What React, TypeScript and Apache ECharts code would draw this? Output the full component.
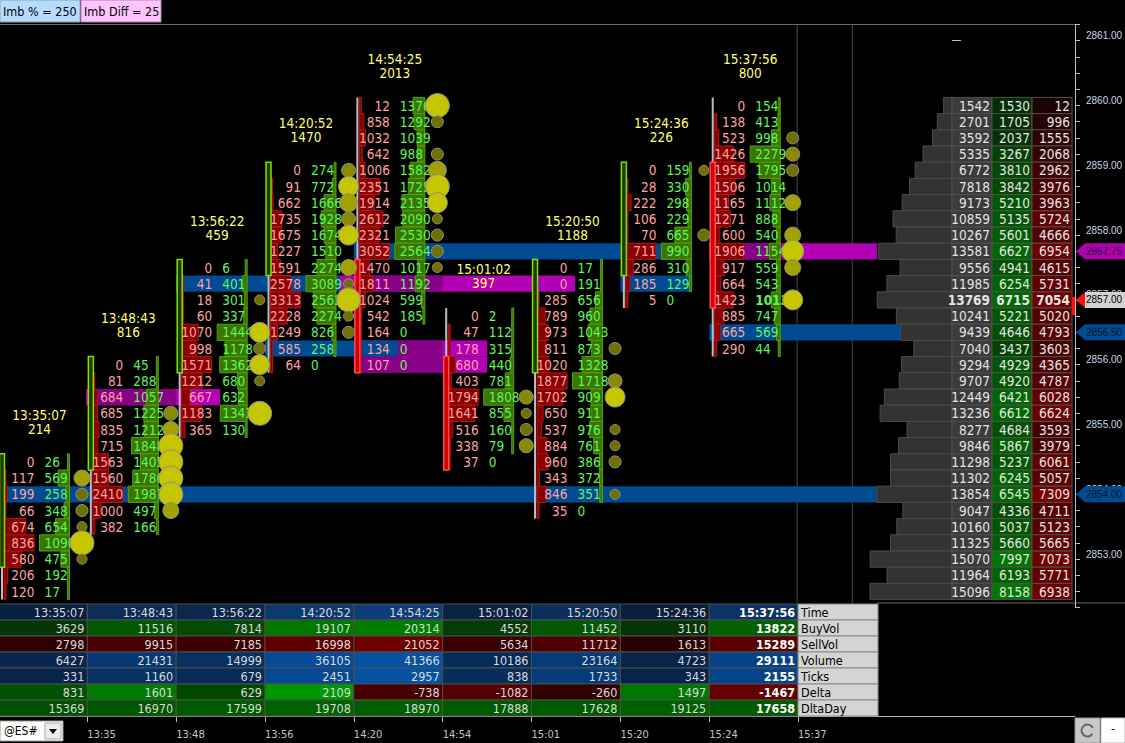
import { useEffect, useRef } from "react";
import * as echarts from "echarts";

const FONT = "'DejaVu Sans Condensed', 'Liberation Sans', 'DejaVu Sans', sans-serif";
const NARROW = "'Liberation Sans', 'DejaVu Sans Condensed', sans-serif";
const TICK = 0.25;

// bars (one footprint column each)
const barTimes = ["13:35:07", "13:48:43", "13:56:22", "14:20:52", "14:54:25", "15:01:02", "15:20:50", "15:24:36", "15:37:56"];
const barRanges = [214, 816, 459, 1470, 2013, 397, 1188, 226, 800];
const axisTimes = ["13:35", "13:48", "13:56", "14:20", "14:54", "15:01", "15:20", "15:24", "15:37"];

const opens = [2853.0, 2854.5, 2856.0, 2857.5, 2857.5, 2856.0, 2856.0, 2857.5, 2859.0];
const highs = [2854.5, 2856.0, 2857.5, 2859.0, 2860.0, 2856.75, 2857.5, 2859.0, 2860.0];
const lows = [2852.5, 2853.5, 2855.0, 2856.0, 2856.0, 2854.5, 2853.75, 2857.0, 2856.25];
const closes = [2854.5, 2856.0, 2857.5, 2859.0, 2856.0, 2854.5, 2857.5, 2859.0, 2857.0];

// bid x ask per price, from the high of the bar down
const sellVols = [
  [0, 117, 199, 66, 674, 836, 580, 206, 120],
  [0, 81, 684, 685, 835, 715, 1563, 1560, 2410, 1000, 382],
  [0, 41, 18, 60, 1070, 998, 1571, 1212, 667, 1183, 365],
  [0, 91, 662, 1735, 1675, 1227, 1591, 2578, 3313, 2228, 1249, 585, 64],
  [12, 858, 1032, 642, 1006, 2351, 1914, 2612, 2321, 3052, 1470, 1811, 1024, 542, 164, 134, 107],
  [0, 47, 178, 680, 403, 1794, 1641, 516, 338, 37],
  [0, 0, 285, 789, 973, 811, 1020, 1877, 1702, 650, 537, 884, 960, 343, 846, 35],
  [0, 28, 222, 106, 70, 711, 286, 185, 5],
  [0, 138, 523, 1426, 1956, 1506, 1165, 1271, 600, 1906, 917, 664, 1423, 885, 665, 290],
];
const buyVols = [
  [26, 569, 258, 348, 654, 1090, 475, 192, 17],
  [45, 288, 1057, 1225, 1212, 1848, 1405, 1786, 1987, 497, 166],
  [6, 401, 301, 337, 1444, 1178, 1362, 680, 632, 1343, 130],
  [274, 772, 1666, 1928, 1674, 1510, 2274, 3089, 2562, 2274, 826, 258, 0],
  [1376, 1292, 1039, 988, 1582, 1725, 2135, 2090, 2530, 2564, 1017, 1192, 599, 185, 0, 0, 0],
  [2, 112, 315, 440, 781, 1808, 855, 160, 79, 0],
  [17, 191, 656, 960, 1043, 873, 1328, 1718, 909, 911, 976, 761, 386, 372, 351, 0],
  [159, 330, 298, 229, 665, 990, 310, 129, 0],
  [154, 413, 998, 2279, 1795, 1014, 1112, 888, 540, 1154, 559, 543, 1013, 747, 569, 44],
];

// imbalance dots: [price, strength]
const imbalances = [
  [[2854.25, 8], [2854.0, 6], [2853.75, 6], [2853.5, 5], [2853.25, 12], [2853.0, 5]],
  [[2855.25, 7], [2855.0, 8], [2854.75, 12], [2854.5, 12], [2854.25, 12], [2854.0, 12], [2853.75, 8]],
  [[2857.0, 5], [2856.5, 10], [2856.25, 6], [2856.0, 10], [2855.75, 5], [2855.25, 12]],
  [[2859.0, 7], [2858.75, 10], [2858.5, 9], [2858.25, 7], [2858.0, 10], [2857.5, 8], [2857.25, 5], [2857.0, 12], [2856.75, 5], [2856.5, 6]],
  [[2860.0, 12], [2859.75, 6], [2859.25, 6], [2859.0, 9], [2858.75, 12], [2858.5, 10], [2858.25, 5], [2858.0, 6], [2857.75, 6], [2857.5, 5]],
  [[2855.5, 7], [2855.25, 5], [2855.0, 6], [2854.75, 7]],
  [[2856.25, 6], [2855.75, 7], [2855.5, 10], [2855.0, 5], [2854.75, 5], [2854.5, 6], [2854.0, 5]],
  [[2859.0, 5], [2858.0, 6]],
  [[2859.5, 6], [2859.25, 7], [2859.0, 6], [2858.5, 8], [2858.0, 8], [2857.75, 11], [2857.5, 8], [2857.0, 10]],
];

// extended levels: [price, from bar, to bar, kind, home bar]
const bands: [number, number, number, string, number][] = [
  [2854.0, 0.107, 9.888, "blue", 0],
  [2855.5, 0.985, 2.493, "mag", 1],
  [2857.25, 1.998, 3.844, "blue", 2],
  [2857.25, 3.844, 6.489, "mag", 4],
  [2856.25, 4.0, 5.499, "mag", 4],
  [2856.0, 4.0, 5.499, "mag", 4],
  [2856.25, 3.0, 4.497, "blue", 3],
  [2857.75, 4.0, 7.47, "blue", 4],
  [2857.25, 7.0, 7.81, "blue", 7],
  [2857.75, 8.0, 9.888, "mag", 8],
  [2856.5, 8.0, 10.16, "blue", 8],
];

// session boundary lines (in bar units)
const dividers = [8.99, 9.61];

// session volume profile
const profilePrices = [2860.0, 2859.75, 2859.5, 2859.25, 2859.0, 2858.75, 2858.5, 2858.25, 2858.0, 2857.75, 2857.5, 2857.25, 2857.0, 2856.75, 2856.5, 2856.25, 2856.0, 2855.75, 2855.5, 2855.25, 2855.0, 2854.75, 2854.5, 2854.25, 2854.0, 2853.75, 2853.5, 2853.25, 2853.0, 2852.75, 2852.5];
const profileTotal = [1542, 2701, 3592, 5335, 6772, 7818, 9173, 10859, 10267, 13581, 9556, 11985, 13769, 10241, 9439, 7040, 9294, 9707, 12449, 13236, 8277, 9846, 11298, 11302, 13854, 9047, 10160, 11325, 15070, 11964, 15096];
const profileBuy = [1530, 1705, 2037, 3267, 3810, 3842, 5210, 5135, 5601, 6627, 4941, 6254, 6715, 5221, 4646, 3437, 4929, 4920, 6421, 6612, 4684, 5867, 5237, 6245, 6545, 4336, 5037, 5660, 7997, 6193, 8158];
const profileSell = [12, 996, 1555, 2068, 2962, 3976, 3963, 5724, 4666, 6954, 4615, 5731, 7054, 5020, 4793, 3603, 4365, 4787, 6028, 6624, 3593, 3979, 6061, 5057, 7309, 4711, 5123, 5665, 7073, 5771, 6938];

const priceLabels = [2853, 2854, 2855, 2856, 2857, 2858, 2859, 2860, 2861];

// bar statistics table
const rowNames = ["Time", "BuyVol", "SellVol", "Volume", "Ticks", "Delta", "DltaDay"];
const tableBuy = [3629, 11516, 7814, 19107, 20314, 4552, 11452, 3110, 13822];
const tableSell = [2798, 9915, 7185, 16998, 21052, 5634, 11712, 1613, 15289];
const tableVolume = [6427, 21431, 14999, 36105, 41366, 10186, 23164, 4723, 29111];
const tableTicks = [331, 1160, 679, 2451, 2957, 838, 1733, 343, 2155];
const tableDelta = [831, 1601, 629, 2109, -738, -1082, -260, 1497, -1467];
const tableDeltaDay = [15369, 16970, 17599, 19708, 18970, 17888, 17628, 19125, 17658];

// layout
const COL_PX = 88.84;
const GRID_LEFT = -1.5;
const PLOT_RIGHT = 1075;
const GRID_W = PLOT_RIGHT - GRID_LEFT;
const X_MAX = GRID_W / COL_PX;
const Y_MIN = 2852.25;
const Y_MAX = 2861.25;
const PX_PER_POINT = 64.8;
const GRID_TOP = 24.5;

const shade = (t: number, a: number[], b: number[]) => {
  const k = Math.max(0, Math.min(1, t));
  return "rgb(" + a.map((v, i) => Math.round(v + (b[i] - v) * k)).join(",") + ")";
};

const dotColor = (s: number) => (s >= 10 ? "#c6c600" : s >= 8 ? "#a2a200" : s >= 7 ? "#8a8a00" : "#707000");

const buildOption = () => {
  const lastCol = barTimes.length - 1;
  const lastPrice = closes[lastCol];

  const fpRows: any[] = [];
  sellVols.forEach((col, c) => {
    const ms = Math.max(...col);
    const mb = Math.max(...buyVols[c]);
    col.forEach((s, i) => {
      fpRows.push({ c, price: highs[c] - i * TICK, sell: s, buy: buyVols[c][i], ms, mb });
    });
  });

  const dots = imbalances.flatMap((list, c) => list.map(([p, s]) => [c, p, s]));

  const tags = bands
    .filter((b) => b[2] > 9.8)
    .map((b) => ({ price: b[0], kind: b[3] }))
    .concat([{ price: lastPrice, kind: "last" }]);

  // profile axis: zero 123px left of the price axis, biggest row 82px long
  const maxTotal = Math.max(...profileTotal);
  const pxPerVol = 82 / maxTotal;
  const volMin = -123 / pxPerVol;
  const volMax = volMin + GRID_W / pxPerVol;
  const maxPB = Math.max(...profileBuy);
  const maxPS = Math.max(...profileSell);

  const maxVol = Math.max(...tableVolume);
  const maxBuy = Math.max(...tableBuy);
  const maxSell = Math.max(...tableSell);
  const maxTicks = Math.max(...tableTicks);
  const maxAbsDelta = Math.max(...tableDelta.map(Math.abs));
  const maxDD = Math.max(...tableDeltaDay);
  const tableRows = [null, tableBuy, tableSell, tableVolume, tableTicks, tableDelta, tableDeltaDay];

  const cells: any[] = [];
  rowNames.forEach((name, r) => {
    barTimes.forEach((t, c) => {
      const v = r === 0 ? 0 : (tableRows[r] as number[])[c];
      let fill = "#000";
      if (r === 0) fill = shade(tableVolume[c] / maxVol, [8, 26, 52], [14, 62, 122]);
      if (r === 1) fill = shade(v / maxBuy, [6, 40, 6], [0, 125, 0]);
      if (r === 2) fill = shade(v / maxSell, [36, 0, 0], [112, 0, 0]);
      if (r === 3) fill = shade(v / maxVol, [8, 30, 62], [5, 82, 165]);
      if (r === 4) fill = shade(v / maxTicks, [8, 30, 62], [5, 82, 165]);
      if (r === 5) fill = v >= 0 ? shade(v / maxAbsDelta, [0, 38, 0], [0, 152, 0]) : shade(-v / maxAbsDelta, [38, 0, 0], [128, 0, 0]);
      if (r === 6) fill = shade(v / maxDD, [0, 20, 0], [0, 98, 0]);
      cells.push({ c, r, text: r === 0 ? t : String(v), fill, label: false, bold: c === lastCol });
    });
    cells.push({ c: barTimes.length, r, text: name, fill: "#d4d4d4", label: true, bold: false });
  });

  const rowBounds = (api: any, x: number, price: number) => {
    const top = api.coord([x, price + TICK / 2])[1];
    const bot = api.coord([x, price - TICK / 2])[1];
    return { top, bot, h: bot - top, mid: (top + bot) / 2 };
  };

  const txt = (text: string, x: number, y: number, fill: string, align: string, size = 13.5, weight = "normal", family = FONT) => ({
    type: "text",
    style: { text, x, y, fill, align, verticalAlign: "middle", fontSize: size, fontFamily: family, fontWeight: weight },
  });

  return {
    animation: false,
    backgroundColor: "#000",
    textStyle: { fontFamily: FONT },
    grid: [
      { left: GRID_LEFT, top: GRID_TOP, width: GRID_W, height: (Y_MAX - Y_MIN) * PX_PER_POINT, outerBoundsMode: "none" },
      { left: GRID_LEFT, top: 604, width: GRID_W, height: 112, outerBoundsMode: "none" },
    ],
    xAxis: [
      {
        type: "value", gridIndex: 0, min: 0, max: X_MAX, position: "top",
        axisLine: { show: true, lineStyle: { color: "#6a6a6a" } },
        axisTick: { show: false }, axisLabel: { show: false }, splitLine: { show: false },
      },
      { type: "value", gridIndex: 0, min: volMin, max: volMax, inverse: true, show: false, position: "bottom" },
      {
        type: "value", gridIndex: 1, min: 0, max: X_MAX, position: "bottom",
        axisLine: { show: true, lineStyle: { color: "#b8b8b8" } },
        axisTick: { show: true, length: 6, lineStyle: { color: "#b8b8b8" }, customValues: axisTimes.map((_, i) => i + 1) },
        axisLabel: {
          show: true, customValues: axisTimes.map((_, i) => i + 1),
          formatter: (v: number) => axisTimes[Math.round(v) - 1] || "",
          align: "left", color: "#c4c4c4", fontSize: 11, margin: 13, fontFamily: FONT,
        },
        splitLine: { show: false },
      },
    ],
    yAxis: [
      {
        // quarter-point ticks, moved onto the right edge
        type: "value", gridIndex: 0, position: "left", offset: -GRID_W, min: Y_MIN, max: Y_MAX, interval: TICK,
        axisLine: { show: true, lineStyle: { color: "#c0c0c0" } },
        axisTick: { show: true, inside: true, length: 5, lineStyle: { color: "#c0c0c0" } },
        axisLabel: { show: false }, splitLine: { show: false },
      },
      {
        type: "value", gridIndex: 0, position: "right", min: Y_MIN, max: Y_MAX,
        axisLine: { show: false },
        axisTick: { show: true, length: 9, lineStyle: { color: "#c0c0c0" }, customValues: priceLabels },
        axisLabel: {
          show: true, customValues: priceLabels, formatter: (v: number) => v.toFixed(2),
          color: "#c8d6e4", fontSize: 10, margin: 11, verticalAlign: "bottom", fontFamily: NARROW,
        },
        splitLine: { show: false },
      },
      { type: "category", gridIndex: 1, data: rowNames, inverse: true, show: false },
    ],
    series: [
      {
        // session dividers
        type: "custom", xAxisIndex: 0, yAxisIndex: 0, z: 0, silent: true,
        data: dividers.map((d) => [d, Y_MIN, Y_MAX]),
        encode: { x: 0, y: [1, 2] },
        renderItem: (params: any, api: any) => {
          const [x, y1] = api.coord([api.value(0), Y_MAX]);
          const y2 = api.coord([api.value(0), Y_MIN])[1];
          return { type: "line", shape: { x1: x, y1, x2: x, y2 }, style: { stroke: "#4a4a4a", lineWidth: 1 } };
        },
      },
      {
        // extended levels
        type: "custom", xAxisIndex: 0, yAxisIndex: 0, z: 1, silent: true,
        data: bands.map((b) => [b[1], b[0], b[2]]),
        encode: { x: [0, 2], y: 1 },
        renderItem: (params: any, api: any) => {
          const [p, from, to, kind, home] = bands[params.dataIndex];
          const rb = rowBounds(api, from, p);
          const x1 = api.coord([from, p])[0];
          const x2 = api.coord([to, p])[0];
          const children: any[] = [
            { type: "rect", shape: { x: x1, y: rb.top, width: x2 - x1, height: rb.h }, style: { fill: kind === "blue" ? "#004b91" : "#b400b4" } },
          ];
          if (kind === "mag") {
            const d1 = api.coord([Math.max(from, home), p])[0];
            const d2 = api.coord([Math.min(to, home + 1), p])[0];
            if (d2 > d1) children.push({ type: "rect", shape: { x: d1, y: rb.top, width: d2 - d1, height: rb.h }, style: { fill: "#880088" } });
          }
          return { type: "group", children };
        },
      },
      {
        // footprint rows
        type: "custom", xAxisIndex: 0, yAxisIndex: 0, z: 2, silent: true,
        data: fpRows.map((r) => [r.c, r.price]),
        encode: { x: 0, y: 1 },
        renderItem: (params: any, api: any) => {
          const r = fpRows[params.dataIndex];
          const x0 = api.coord([r.c, r.price])[0];
          const rb = rowBounds(api, r.c, r.price);
          const children: any[] = [];
          if (r.sell > 0) {
            const w = Math.max(2, 30 * Math.pow(r.sell / r.ms, 1.5));
            children.push({ type: "rect", shape: { x: x0 + 5.5, y: rb.top, width: w, height: rb.h }, style: { fill: "#8a0000", stroke: "#b01616", lineWidth: 1 } });
          }
          if (r.buy > 0) {
            const w = Math.max(2, 30 * Math.pow(r.buy / r.mb, 1.5));
            children.push({ type: "rect", shape: { x: x0 + 71 - w, y: rb.top, width: w, height: rb.h }, style: { fill: "#3a7600", stroke: "#54a010", lineWidth: 1 } });
          }
          const boldBuy = r.c === lastCol && r.price === lastPrice;
          children.push(txt(String(r.sell), x0 + 36, rb.mid, "#ffa2a2", "right"));
          children.push(txt(String(r.buy), x0 + 46, rb.mid, "#5ef55e", "left", 13.5, boldBuy ? "bold" : "normal"));
          return { type: "group", children };
        },
      },
      {
        // candles and bar headers
        type: "custom", xAxisIndex: 0, yAxisIndex: 0, z: 3, silent: true,
        data: opens.map((o, i) => [i, o, highs[i], lows[i], closes[i]]),
        encode: { x: 0, y: [1, 2, 3, 4] },
        renderItem: (params: any, api: any) => {
          const i = params.dataIndex;
          const o = api.value(1), h = api.value(2), l = api.value(3), c = api.value(4);
          const x0 = api.coord([i, h])[0];
          const yHigh = api.coord([i, h + TICK / 2])[1];
          const yLow = api.coord([i, l - TICK / 2])[1];
          const up = c >= o;
          const yb1 = api.coord([i, Math.max(o, c) + TICK / 2])[1];
          const yb2 = api.coord([i, Math.min(o, c) - TICK / 2])[1];
          const yTopRow = api.coord([i, h])[1];
          return {
            type: "group",
            children: [
              { type: "line", shape: { x1: x0 + 3.5, y1: yHigh, x2: x0 + 3.5, y2: yLow }, style: { stroke: "#bdbdbd", lineWidth: 2 } },
              {
                type: "rect", shape: { x: x0 + 1, y: yb1, width: 5, height: yb2 - yb1 },
                style: up ? { fill: "#1e3c00", stroke: "#80e000", lineWidth: 1.5 } : { fill: "#d40000", stroke: "#ff4a4a", lineWidth: 1.5 },
              },
              txt(barTimes[i], x0 + 41, yTopRow - 47, "#ffff70", "center"),
              txt(String(barRanges[i]), x0 + 41, yTopRow - 33, "#ffff70", "center"),
            ],
          };
        },
      },
      {
        // imbalance dots
        type: "scatter", xAxisIndex: 0, yAxisIndex: 0, z: 5, silent: true,
        data: dots.map(([c, p, s]) => ({ value: [c + 0.94, p], symbolSize: s * 2, itemStyle: { color: dotColor(s) } })),
        itemStyle: { opacity: 1, borderColor: "#8e8e8e", borderWidth: 1 },
      },
      {
        // volume profile
        type: "custom", xAxisIndex: 1, yAxisIndex: 0, z: 6, silent: true,
        data: profileTotal.map((t, i) => [t, profilePrices[i]]),
        encode: { x: 0, y: 1 },
        renderItem: (params: any, api: any) => {
          const i = params.dataIndex;
          const p = profilePrices[i];
          const xl = api.coord([profileTotal[i], p])[0];
          const xz = api.coord([0, p])[0];
          const rb = rowBounds(api, 0, p);
          const bold = p === lastPrice ? "bold" : "normal";
          const cellStroke = "#505050";
          return {
            type: "group",
            children: [
              { type: "rect", shape: { x: xl, y: rb.top, width: xz - xl, height: rb.h }, style: { fill: "#333333", stroke: "#4c4c4c", lineWidth: 1 } },
              { type: "rect", shape: { x: xz, y: rb.top, width: 40, height: rb.h }, style: { fill: "#3b3b3b", stroke: cellStroke, lineWidth: 1 } },
              { type: "rect", shape: { x: xz + 40, y: rb.top, width: 40, height: rb.h }, style: { fill: shade(profileBuy[i] / maxPB, [6, 28, 6], [0, 122, 0]), stroke: cellStroke, lineWidth: 1 } },
              { type: "rect", shape: { x: xz + 80, y: rb.top, width: 40, height: rb.h }, style: { fill: shade(profileSell[i] / maxPS, [26, 4, 4], [118, 0, 0]), stroke: cellStroke, lineWidth: 1 } },
              txt(String(profileTotal[i]), xz + 38, rb.mid, "#e4e4e4", "right", 13.5, bold),
              txt(String(profileBuy[i]), xz + 78, rb.mid, "#e4e4e4", "right", 13.5, bold),
              txt(String(profileSell[i]), xz + 118, rb.mid, "#e4e4e4", "right", 13.5, bold),
            ],
          };
        },
      },
      {
        // price tags on the axis
        type: "custom", xAxisIndex: 0, yAxisIndex: 0, z: 8, silent: true, clip: false,
        data: tags.map((t) => [X_MAX, t.price]),
        encode: { x: 0, y: 1 },
        renderItem: (params: any, api: any) => {
          const t = tags[params.dataIndex];
          const [xr, y] = api.coord([X_MAX, t.price]);
          const bg = t.kind === "blue" ? "#004b91" : t.kind === "mag" ? "#b000b0" : "#d2d2d2";
          const arrow = t.kind === "last" ? "#ff1010" : bg;
          const textFill = t.kind === "blue" ? "#001326" : t.kind === "mag" ? "#2a002a" : "#000";
          const children: any[] = [
            { type: "polygon", shape: { points: [[xr + 1, y], [xr + 10, y - 8], [xr + 10, y + 8]] }, style: { fill: arrow } },
            { type: "rect", shape: { x: xr + 10, y: y - 8, width: 40, height: 16 }, style: { fill: bg } },
            txt(t.price.toFixed(2), xr + 11, y, textFill, "left", 10, "normal", NARROW),
          ];
          if (t.kind === "last") children.push({ type: "rect", shape: { x: xr - 3, y: y - 3, width: 3, height: 18 }, style: { fill: "#ff1010" } });
          return { type: "group", children };
        },
      },
      {
        // statistics table
        type: "custom", xAxisIndex: 2, yAxisIndex: 2, z: 10, silent: true, clip: false,
        data: cells.map((c) => [c.c, c.r]),
        encode: { x: 0, y: 1 },
        renderItem: (params: any, api: any) => {
          const cell = cells[params.dataIndex];
          const [xl, yc] = api.coord([cell.c, cell.r]);
          const bh = api.size([0, 1])[1];
          const xr = api.coord([cell.c + (cell.label ? 0.9 : 1), cell.r])[0];
          return {
            type: "group",
            children: [
              { type: "rect", shape: { x: xl, y: yc - bh / 2, width: xr - xl, height: bh }, style: { fill: cell.fill, stroke: cell.label ? "#8a8a8a" : "#4e4e4e", lineWidth: 1 } },
              cell.label
                ? txt(cell.text, xl + 3, yc, "#000", "left", 12.5)
                : txt(cell.text, xr - 3, yc, cell.bold ? "#ffffff" : "#dadada", "right", 12.5, cell.bold ? "bold" : "normal"),
            ],
          };
        },
      },
    ],
    graphic: [
      { type: "rect", shape: { x: 0, y: 0, width: 80, height: 22 }, style: { fill: "#b5dbff", stroke: "#8aa" } },
      { type: "text", style: { text: "Imb % = 250", x: 3, y: 11, fill: "#000", fontSize: 12.5, fontFamily: FONT, verticalAlign: "middle" } },
      { type: "rect", shape: { x: 81, y: 0, width: 80, height: 22 }, style: { fill: "#ffc4ff", stroke: "#a8a" } },
      { type: "text", style: { text: "Imb Diff = 25", x: 84, y: 11, fill: "#000", fontSize: 12.5, fontFamily: FONT, verticalAlign: "middle" } },
      { type: "line", shape: { x1: 877, y1: 603, x2: 1125, y2: 603 }, style: { stroke: "#666", lineWidth: 1 } },
      { type: "rect", shape: { x: 0, y: 721, width: 63, height: 20 }, style: { fill: "#fff", stroke: "#9a9a9a" } },
      { type: "text", style: { text: "@ES#", x: 4, y: 731, fill: "#000", fontSize: 12, fontFamily: FONT, verticalAlign: "middle" } },
      { type: "rect", shape: { x: 45, y: 723, width: 16, height: 16 }, style: { fill: "#ececec", stroke: "#aaa" } },
      { type: "polygon", shape: { points: [[49, 729], [57, 729], [53, 734]] }, style: { fill: "#000" } },
      { type: "rect", shape: { x: 1075, y: 718, width: 25, height: 25 }, style: { fill: "#c8c8c8", stroke: "#999" } },
      { type: "arc", shape: { cx: 1087.5, cy: 730.5, r: 6, startAngle: 0.6, endAngle: 5.8 }, style: { stroke: "#666", lineWidth: 2, fill: "none" } },
      { type: "rect", shape: { x: 1101, y: 718, width: 24, height: 25 }, style: { fill: "#fff", stroke: "#bbb" } },
      { type: "text", style: { text: "-", x: 1113, y: 729, fill: "#000", fontSize: 12, fontFamily: FONT, align: "center", verticalAlign: "middle" } },
    ],
  };
};

const App = () => {
  const chartRef = useRef<HTMLDivElement>(null);

  useEffect(() => {
    document.body.style.margin = "0";
    if (!chartRef.current) return;
    const chart = echarts.init(chartRef.current, null, { renderer: "svg" });
    chart.setOption(buildOption() as any);
    return () => {
      chart.dispose();
    };
  }, []);

  return <div ref={chartRef} style={{ width: 1125, height: 743, background: "#000" }} />;
};

export default App;
